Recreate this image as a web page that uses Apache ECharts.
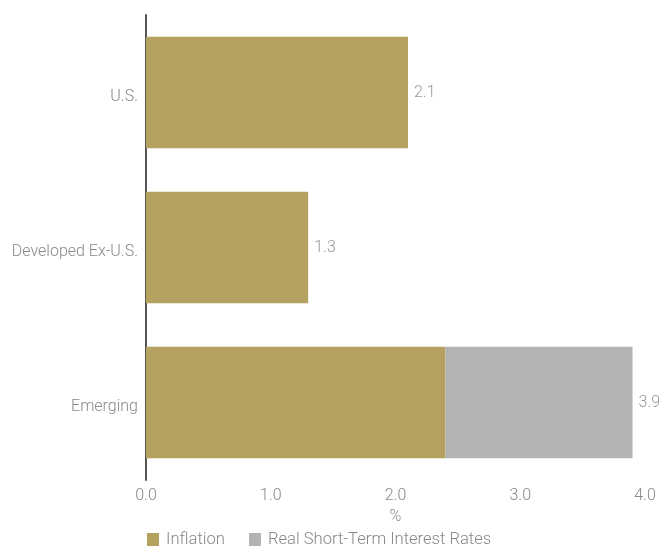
<!DOCTYPE html>
<html><head><meta charset="utf-8">
<script src="https://cdn.jsdelivr.net/npm/echarts@6/dist/echarts.min.js"></script>
<style>html,body{margin:0;padding:0;background:#fff}#c{width:663px;height:548px}</style>
</head><body><div id="c"></div>
<script>
const categories = ['U.S.', 'Developed Ex-U.S.', 'Emerging'];
const inflation = [2.1, 1.3, 2.4];
const realRates = [0, 0, 1.5];
const xTicks = [0, 1, 2, 3, 4];
const totals = inflation.map((v, i) => +(v + realRates[i]).toFixed(1));

const chart = echarts.init(document.getElementById('c'));
const font = 'Roboto, sans-serif';
const fw = 300;
chart.setOption({
  animation: false,
  textStyle: { fontFamily: font, fontWeight: fw },
  grid: { left: 146, right: 18, top: 15, bottom: 68, containLabel: false },
  legend: {
    data: ['Inflation', 'Real Short-Term Interest Rates'],
    top: 526, left: 142,
    itemWidth: 12, itemHeight: 13, itemGap: 24,
    icon: 'rect',
    textStyle: { color: '#888', fontSize: 16.6, fontFamily: font, fontWeight: fw, padding: [0, 0, 0, 2] }
  },
  xAxis: {
    type: 'value', min: xTicks[0], max: xTicks[xTicks.length - 1], interval: 1,
    name: '%', nameLocation: 'middle', nameGap: 28,
    nameTextStyle: { color: '#888', fontSize: 16, fontWeight: fw },
    axisLine: { show: false }, axisTick: { show: false }, splitLine: { show: false },
    axisLabel: { color: '#888', fontSize: 16, fontWeight: fw, margin: 8, formatter: v => v.toFixed(1) }
  },
  yAxis: {
    type: 'category', data: categories, inverse: true,
    axisLine: { show: true, lineStyle: { color: '#555', width: 2 } },
    axisTick: { show: false },
    axisLabel: {
      color: '#888', fontSize: 16, fontWeight: fw, margin: 8,
      formatter: v => '{a|' + v + '}',
      rich: { a: { color: '#888', fontSize: 16, fontWeight: fw, fontFamily: font, padding: [8, 0, 0, 0] } }
    }
  },
  series: [
    {
      name: 'Inflation', type: 'bar', stack: 't', data: inflation, barWidth: '72%',
      itemStyle: { color: '#b5a160' }
    },
    {
      name: 'Real Short-Term Interest Rates', type: 'bar', stack: 't', data: realRates,
      itemStyle: { color: '#b3b3b3' },
      label: {
        show: true, position: 'right', distance: 6, color: '#999', fontSize: 16, fontWeight: fw,
        formatter: p => totals[p.dataIndex].toFixed(1)
      }
    }
  ]
});
</script></body></html>
